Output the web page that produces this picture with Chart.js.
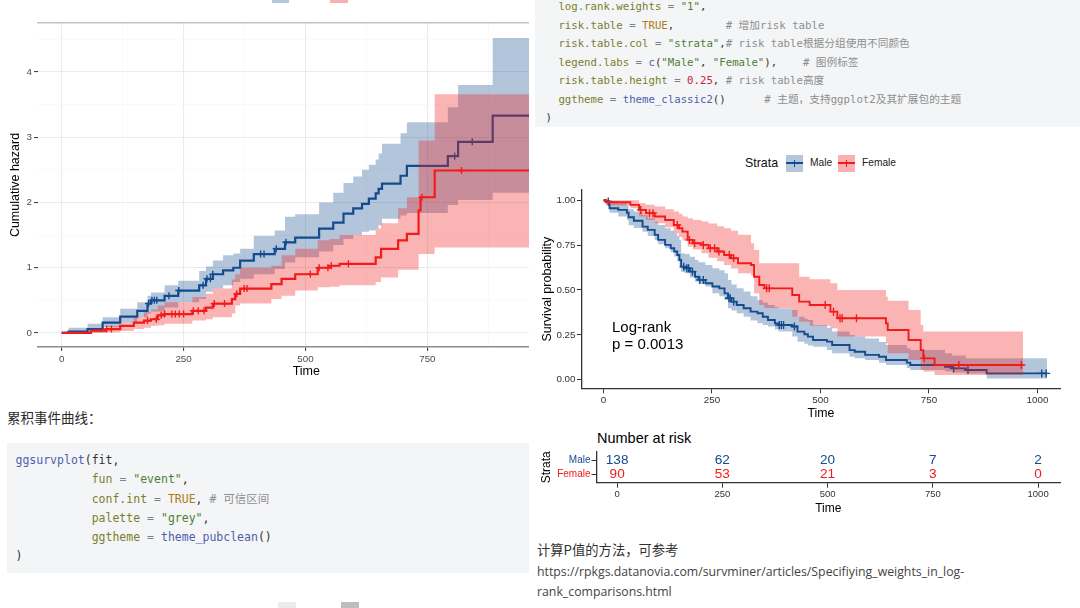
<!DOCTYPE html>
<html><head><meta charset="utf-8">
<script src="https://cdn.jsdelivr.net/npm/chart.js@4.4.1/dist/chart.umd.min.js"></script>
<style>
html,body{margin:0;padding:0;width:1080px;height:608px;overflow:hidden;background:#fff;}
.abs{position:absolute;}
.code{position:absolute;background:#F4F5F6;overflow:hidden;}
.code pre{position:absolute;margin:0;font-family:"DejaVu Sans Mono","Liberation Mono",monospace;white-space:pre;color:#333;}
.code .z{font-family:"Noto Sans CJK SC",sans-serif;}
.n{color:#7B7D2E}.o{color:#808080}.s{color:#4F7D37}.k{color:#B07A12}.c{color:#8E8E8E}.num{color:#C0253C}.f{color:#4E5DB0}
.txt{position:absolute;white-space:nowrap;font-family:"Liberation Sans",Arial,sans-serif;color:#000;}
.cjk{position:absolute;white-space:nowrap;font-family:"Noto Sans CJK SC",sans-serif;color:#2a2a2a;}
.key{position:absolute;width:17px;height:17px;}
.key .h{position:absolute;left:0;top:7.5px;width:17px;height:2px;}
.key .v{position:absolute;left:7.8px;top:5px;width:1.5px;height:7px;}
</style></head>
<body>
<script>
// ---------------- data ----------------
// Cumulative hazard (left chart)
const HAZ_MALE_TIME  = [0,14,53,84,120,155,176,183,211,239,282,296,310,331,352,366,394,437,458,479,528,557,578,598,616,630,644,650,657,695,708,792,813,884,1022];
const HAZ_MALE       = [0,0.02,0.06,0.16,0.25,0.34,0.45,0.50,0.57,0.65,0.73,0.83,0.90,0.96,1.00,1.11,1.21,1.29,1.39,1.46,1.60,1.69,1.83,1.91,1.98,2.06,2.14,2.21,2.29,2.41,2.56,2.71,2.93,3.33,3.33];
const HAZ_MALE_UPPER = [0,0.08,0.14,0.24,0.37,0.47,0.57,0.62,0.73,0.80,0.95,1.02,1.11,1.19,1.22,1.29,1.49,1.57,1.78,1.82,2.00,2.15,2.30,2.40,2.50,2.58,2.66,2.75,2.90,3.06,3.23,3.46,3.80,4.52,4.52];
const HAZ_MALE_LOWER = [0,0.00,0.01,0.09,0.16,0.24,0.30,0.33,0.39,0.47,0.52,0.63,0.68,0.73,0.78,0.83,0.90,0.98,1.08,1.16,1.25,1.35,1.44,1.50,1.55,1.57,1.60,1.65,1.75,1.80,1.84,1.96,2.04,2.15,2.15];
const HAZ_FEMALE_TIME  = [0,60,91,120,148,169,183,197,211,268,296,310,349,356,366,430,451,479,525,549,570,644,655,690,708,732,736,765,967];
const HAZ_FEMALE       = [0,0.036,0.06,0.11,0.16,0.19,0.21,0.27,0.29,0.34,0.39,0.45,0.52,0.60,0.68,0.75,0.83,0.90,1.00,1.03,1.06,1.16,1.29,1.42,1.52,1.88,2.08,2.49,2.49];
const HAZ_FEMALE_UPPER = [0,0.06,0.11,0.16,0.24,0.32,0.36,0.42,0.47,0.55,0.60,0.68,0.82,0.90,1.00,1.03,1.19,1.29,1.42,1.44,1.50,1.60,1.68,1.91,2.08,2.95,2.95,3.66,3.66];
const HAZ_FEMALE_LOWER = [0,0.00,0.01,0.03,0.06,0.08,0.11,0.12,0.14,0.19,0.21,0.24,0.30,0.42,0.45,0.52,0.57,0.65,0.70,0.71,0.73,0.78,0.85,0.97,0.97,1.21,1.21,1.31,1.31];
const HAZ_MALE_CENS_TIME = [178,185,190,195,220,240,290,298,305,310,408,415,440,460,806,842];
const HAZ_MALE_CENS      = [0.45,0.50,0.50,0.50,0.57,0.65,0.73,0.83,0.83,0.90,1.21,1.21,1.29,1.39,2.71,2.93];
const HAZ_FEMALE_CENS_TIME = [92,102,176,194,204,211,226,233,241,250,270,280,292,313,334,359,374,380,510,528,546,553,588,739,820];
const HAZ_FEMALE_CENS      = [0.06,0.06,0.19,0.21,0.27,0.29,0.29,0.29,0.29,0.29,0.34,0.34,0.34,0.45,0.45,0.60,0.68,0.68,0.90,1.00,1.00,1.03,1.06,2.08,2.49];
const HAZ_X_TICKS = [0,125,250,375,500,625,750,875,1000];
const HAZ_Y_TICKS = [0,0.5,1,1.5,2,2.5,3,3.5,4,4.5];

// Survival probability (right chart)
const SURV_MALE_TIME  = [0,6,13,14,34,54,58,70,90,102,118,126,142,155,163,170,175,179,187,199,211,219,235,251,267,279,287,295,307,323,339,355,367,379,395,403,435,447,463,471,483,515,527,567,579,603,635,651,699,707,787,803,835,883,1022];
const SURV_MALE       = [1,0.993,0.974,0.955,0.946,0.93,0.905,0.886,0.853,0.835,0.807,0.779,0.751,0.732,0.714,0.695,0.667,0.63,0.621,0.602,0.574,0.556,0.537,0.519,0.509,0.481,0.454,0.435,0.416,0.398,0.379,0.37,0.351,0.333,0.314,0.305,0.296,0.268,0.253,0.24,0.221,0.212,0.193,0.165,0.156,0.138,0.128,0.11,0.095,0.082,0.072,0.063,0.054,0.035,0.035];
const SURV_MALE_UPPER = [1,1,1,0.995,0.985,0.97,0.95,0.937,0.918,0.90,0.881,0.862,0.844,0.83,0.816,0.80,0.779,0.704,0.70,0.685,0.667,0.655,0.639,0.621,0.61,0.593,0.556,0.53,0.509,0.491,0.465,0.444,0.43,0.416,0.405,0.398,0.388,0.351,0.34,0.333,0.305,0.29,0.268,0.249,0.24,0.23,0.21,0.193,0.175,0.165,0.147,0.135,0.119,0.119,0.119];
const SURV_MALE_LOWER = [1,0.98,0.95,0.93,0.91,0.89,0.86,0.845,0.825,0.80,0.779,0.755,0.732,0.71,0.686,0.66,0.621,0.60,0.593,0.57,0.546,0.535,0.519,0.481,0.465,0.444,0.398,0.385,0.37,0.351,0.33,0.314,0.305,0.296,0.28,0.268,0.24,0.212,0.20,0.19,0.184,0.165,0.147,0.128,0.12,0.11,0.095,0.082,0.065,0.054,0.045,0.04,0.035,0.007,0.007];
const SURV_FEMALE_TIME  = [0,6,62,82,98,118,142,162,174,182,194,206,226,242,262,278,294,310,340,347,359,371,435,451,475,523,539,651,655,703,731,737,763,967];
const SURV_FEMALE       = [1,0.989,0.974,0.946,0.928,0.909,0.89,0.862,0.844,0.825,0.779,0.76,0.751,0.732,0.714,0.695,0.677,0.649,0.639,0.574,0.528,0.509,0.472,0.435,0.416,0.379,0.342,0.314,0.277,0.221,0.165,0.119,0.082,0.082];
const SURV_FEMALE_UPPER = [1,1,1,0.983,0.975,0.965,0.95,0.937,0.925,0.91,0.90,0.89,0.881,0.87,0.855,0.844,0.83,0.807,0.76,0.723,0.649,0.649,0.649,0.574,0.56,0.537,0.50,0.463,0.44,0.388,0.305,0.268,0.268,0.268];
const SURV_FEMALE_LOWER = [1,0.97,0.955,0.909,0.89,0.872,0.85,0.816,0.795,0.775,0.742,0.725,0.704,0.68,0.66,0.639,0.62,0.593,0.58,0.481,0.416,0.40,0.351,0.323,0.30,0.286,0.24,0.203,0.147,0.11,0.054,0.045,0.026,0.026];
const SURV_MALE_CENS_TIME = [11,185,192,196,205,222,230,289,292,300,405,410,415,440,807,840,1010,1020];
const SURV_MALE_CENS      = [0.993,0.63,0.621,0.621,0.602,0.556,0.556,0.454,0.454,0.435,0.305,0.305,0.305,0.296,0.063,0.054,0.035,0.035];
const SURV_FEMALE_CENS_TIME = [86,106,114,170,198,210,230,246,256,266,290,300,376,382,511,530,545,550,583,739,819,963];
const SURV_FEMALE_CENS      = [0.946,0.928,0.928,0.862,0.779,0.76,0.751,0.732,0.732,0.714,0.695,0.677,0.509,0.509,0.416,0.379,0.342,0.342,0.342,0.119,0.082,0.082];
const SURV_X_TICKS = [0,250,500,750,1000];
const SURV_Y_TICKS = [0,0.25,0.5,0.75,1];
const SURV_Y_LABELS = ["0.00","0.25","0.50","0.75","1.00"];

// Number at risk table
const STRATA = ["Male","Female"];
const RISK_TIMES  = [0,250,500,750,1000];
const RISK_MALE   = [138,62,20,7,2];
const RISK_FEMALE = [90,53,21,3,0];
</script>

<!-- left chart (clipped on the right like the reference) -->
<div class="abs" style="left:0;top:0;width:529px;height:390px;overflow:hidden;">
  <canvas id="haz" width="580" height="390" style="width:580px;height:390px;"></canvas>
</div>
<div class="abs" style="left:272px;top:0;width:17px;height:3px;background:#B3C6DC;"></div>
<div class="abs" style="left:330px;top:0;width:18px;height:3px;background:#F8B0B0;"></div>

<div class="cjk" style="left:7px;top:405px;font-size:13.5px;line-height:24px;">累积事件曲线：</div>
<div class="code" style="left:7px;top:443px;width:522px;height:130px;">
<pre style="left:8.5px;top:8px;font-size:11.5px;line-height:19px;"><span class="f">ggsurvplot</span>(fit,
           <span class="n">fun</span> <span class="o">=</span> <span class="s">"event"</span>,
           <span class="n">conf.int</span> <span class="o">=</span> <span class="k">TRUE</span>, <span class="c"># <span class="z">可信区间</span></span>
           <span class="n">palette</span> <span class="o">=</span> <span class="s">"grey"</span>,
           <span class="n">ggtheme</span> <span class="o">=</span> <span class="f">theme_pubclean</span>()
)</pre>
</div>
<div class="abs" style="left:278px;top:602px;width:18px;height:6px;background:#EBEBEB;"></div>
<div class="abs" style="left:341px;top:602px;width:18px;height:6px;background:#BEBEBE;"></div>

<!-- right column -->
<div class="code" style="left:535px;top:0;width:545px;height:127px;">
<pre style="left:10.5px;top:-2px;font-size:10.7px;line-height:17.6px;">  <span class="n">log.rank.weights</span> <span class="o">=</span> <span class="s">"1"</span>,
  <span class="n">risk.table</span> <span class="o">=</span> <span class="k">TRUE</span>,        <span class="c"># <span class="z">增加</span>risk table</span>
  <span class="n">risk.table.col</span> <span class="o">=</span> <span class="s">"strata"</span>,<span class="c"># risk table<span class="z">根据分组使用不同颜色</span></span>
  <span class="n">legend.labs</span> <span class="o">=</span> <span class="f">c</span>(<span class="s">"Male"</span>, <span class="s">"Female"</span>),    <span class="c"># <span class="z">图例标签</span></span>
  <span class="n">risk.table.height</span> <span class="o">=</span> <span class="num">0.25</span>, <span class="c"># risk table<span class="z">高度</span></span>
  <span class="n">ggtheme</span> <span class="o">=</span> <span class="f">theme_classic2</span>()      <span class="c"># <span class="z">主题，支持</span>ggplot2<span class="z">及其扩展包的主题</span></span>
)</pre>
</div>

<!-- survival legend -->
<div class="txt" style="left:745px;top:155px;font-size:12.4px;line-height:16px;color:#111;">Strata</div>
<div class="key" style="left:786px;top:154.5px;background:#B3C6DC;"><div class="h" style="background:#134B8E"></div><div class="v" style="background:#134B8E"></div></div>
<div class="txt" style="left:810px;top:156px;font-size:10.2px;line-height:14px;color:#222;">Male</div>
<div class="key" style="left:838px;top:154.5px;background:#F8B0B0;"><div class="h" style="background:#F21A1A"></div><div class="v" style="background:#F21A1A"></div></div>
<div class="txt" style="left:862px;top:156px;font-size:10.2px;line-height:14px;color:#222;">Female</div>

<div class="abs" style="left:536px;top:130px;width:544px;height:295px;">
  <canvas id="surv" width="544" height="295" style="width:544px;height:295px;"></canvas>
</div>
<div class="txt" style="left:612px;top:318px;font-size:15px;line-height:17.3px;">Log-rank<br>p = 0.0013</div>

<div class="txt" style="left:597px;top:429px;font-size:14.5px;line-height:18px;">Number at risk</div>
<div class="abs" style="left:536px;top:428px;width:544px;height:92px;">
  <canvas id="risk" width="544" height="92" style="width:544px;height:92px;"></canvas>
</div>

<div class="cjk" style="left:537px;top:540px;font-size:13.3px;line-height:20px;color:#333;">计算P值的方法，可参考</div>
<div class="abs" style="left:537px;top:561.5px;font-family:'Open Sans',sans-serif;font-size:12.3px;line-height:20px;color:#444;white-space:nowrap;">https://rpkgs.datanovia.com/survminer/articles/Specifiying_weights_in_log-<br>rank_comparisons.html</div>

<script>
const MALE_COLOR = '#134B8E', FEMALE_COLOR = '#F21A1A';
const MALE_FILL = 'rgba(19,75,142,0.32)', FEMALE_FILL = 'rgba(242,26,26,0.33)';
Chart.defaults.font.family = '"Liberation Sans", Arial, sans-serif';
Chart.defaults.color = '#333';

const pts = (xs, ys) => xs.map((x, i) => ({ x: x, y: ys[i] }));
function bandSets(t, up, lo, fill, order) {
  return [
    { data: pts(t, up), stepped: 'before', borderWidth: 0, borderColor: 'rgba(0,0,0,0)', pointRadius: 0, fill: '+1', backgroundColor: fill, order: order },
    { data: pts(t, lo), stepped: 'before', borderWidth: 0, borderColor: 'rgba(0,0,0,0)', pointRadius: 0, fill: false, order: order }
  ];
}
function lineSet(t, v, color, order, w) {
  return { data: pts(t, v), stepped: 'before', borderColor: color, borderWidth: w, pointRadius: 0, fill: false, order: order };
}
function censSet(t, v, color, order, r) {
  return { data: pts(t, v), showLine: false, pointStyle: 'cross', pointRadius: r, pointBorderColor: color, pointBorderWidth: 1.4, borderColor: color, backgroundColor: color, order: order };
}
const noInteract = { legend: { display: false }, tooltip: { enabled: false }, title: { display: false } };
const plainNum = v => String(v);

// ---------- Cumulative hazard ----------
const isMajorX = v => v % 250 === 0;
const isMajorY = v => Number.isInteger(v);
new Chart(document.getElementById('haz'), {
  type: 'line',
  data: { datasets: [
    ...bandSets(HAZ_MALE_TIME, HAZ_MALE_UPPER, HAZ_MALE_LOWER, MALE_FILL, 6),
    lineSet(HAZ_MALE_TIME, HAZ_MALE, MALE_COLOR, 5, 2.2),
    censSet(HAZ_MALE_CENS_TIME, HAZ_MALE_CENS, MALE_COLOR, 4, 3.5),
    ...bandSets(HAZ_FEMALE_TIME, HAZ_FEMALE_UPPER, HAZ_FEMALE_LOWER, FEMALE_FILL, 3),
    lineSet(HAZ_FEMALE_TIME, HAZ_FEMALE, FEMALE_COLOR, 2, 2.2),
    censSet(HAZ_FEMALE_CENS_TIME, HAZ_FEMALE_CENS, FEMALE_COLOR, 1, 3.5)
  ]},
  options: {
    responsive: false, animation: false, events: [],
    layout: { padding: { top: 23, right: 5, left: 0, bottom: 0 } },
    plugins: noInteract,
    scales: {
      x: {
        type: 'linear', min: -48.6, max: 1052,
        afterBuildTicks: s => { s.ticks = HAZ_X_TICKS.map(v => ({ value: v })); },
        afterFit: s => { s.height = 43; },
        ticks: { callback: v => isMajorX(v) ? String(v) : '', color: '#4D4D4D', font: { size: 9.8 }, padding: 2, maxRotation: 0, autoSkip: false },
        grid: {
          color: c => (c.tick && isMajorX(c.tick.value)) ? '#EBEBEB' : '#F6F6F6',
          lineWidth: c => (c.tick && isMajorX(c.tick.value)) ? 1.1 : 0.6,
          tickLength: 4,
          tickColor: c => (c.tick && isMajorX(c.tick.value)) ? '#444' : 'rgba(0,0,0,0)'
        },
        border: { display: true, color: '#8C8C8C', width: 1.5 },
        title: { display: true, text: 'Time', color: '#000', font: { size: 12.5 }, padding: { top: 0, bottom: 10.5 } }
      },
      x2: {
        type: 'linear', position: 'top', min: -48.6, max: 1052,
        afterFit: s => { s.height = 0; },
        ticks: { display: false }, grid: { display: false, drawTicks: false },
        border: { display: true, color: '#C4C4C4', width: 1.5 }
      },
      y: {
        type: 'linear', min: -0.215, max: 4.751,
        afterBuildTicks: s => { s.ticks = HAZ_Y_TICKS.map(v => ({ value: v })); },
        afterFit: s => { s.width = 38; },
        ticks: { callback: v => isMajorY(v) ? String(v) : '', color: '#4D4D4D', font: { size: 9.8 }, padding: 2, autoSkip: false },
        grid: {
          color: c => (c.tick && isMajorY(c.tick.value)) ? '#EBEBEB' : '#F6F6F6',
          lineWidth: c => (c.tick && isMajorY(c.tick.value)) ? 1.1 : 0.6,
          tickLength: 4,
          tickColor: c => (c.tick && isMajorY(c.tick.value)) ? '#444' : 'rgba(0,0,0,0)'
        },
        border: { display: false },
        title: { display: true, text: 'Cumulative hazard', color: '#000', font: { size: 12.5 }, padding: { top: 8, bottom: 0 } }
      }
    }
  }
});

// ---------- Survival probability ----------
new Chart(document.getElementById('surv'), {
  type: 'line',
  data: { datasets: [
    ...bandSets(SURV_MALE_TIME, SURV_MALE_UPPER, SURV_MALE_LOWER, MALE_FILL, 6),
    lineSet(SURV_MALE_TIME, SURV_MALE, MALE_COLOR, 5, 1.9),
    censSet(SURV_MALE_CENS_TIME, SURV_MALE_CENS, MALE_COLOR, 4, 4),
    ...bandSets(SURV_FEMALE_TIME, SURV_FEMALE_UPPER, SURV_FEMALE_LOWER, FEMALE_FILL, 3),
    lineSet(SURV_FEMALE_TIME, SURV_FEMALE, FEMALE_COLOR, 2, 1.9),
    censSet(SURV_FEMALE_CENS_TIME, SURV_FEMALE_CENS, FEMALE_COLOR, 1, 4)
  ]},
  options: {
    responsive: false, animation: false, events: [],
    layout: { padding: { top: 60, right: 20, left: 0, bottom: 0 } },
    plugins: noInteract,
    scales: {
      x: {
        type: 'linear', min: -49.5, max: 1052,
        afterBuildTicks: s => { s.ticks = SURV_X_TICKS.map(v => ({ value: v })); },
        afterFit: s => { s.height = 36.7; },
        ticks: { callback: plainNum, color: '#333', font: { size: 9.8 }, padding: 1, maxRotation: 0, autoSkip: false },
        grid: { display: true, drawOnChartArea: false, tickLength: 5, tickColor: '#333', lineWidth: 1 },
        border: { display: true, color: '#333', width: 1.3 },
        title: { display: true, text: 'Time', color: '#000', font: { size: 12.3 }, padding: { top: 0, bottom: 4.2 } }
      },
      y: {
        type: 'linear', min: -0.048, max: 1.057,
        afterBuildTicks: s => { s.ticks = SURV_Y_TICKS.map(v => ({ value: v })); },
        afterFit: s => { s.width = 46; },
        ticks: { callback: v => SURV_Y_LABELS[SURV_Y_TICKS.indexOf(v)], color: '#333', font: { size: 9.8 }, padding: 1.5, autoSkip: false },
        grid: { display: true, drawOnChartArea: false, tickLength: 5, tickColor: '#333', lineWidth: 1 },
        border: { display: true, color: '#333', width: 1.3 },
        title: { display: true, text: 'Survival probability', color: '#000', font: { size: 12.5 }, padding: { top: 4, bottom: 0 } }
      }
    }
  }
});

// ---------- Number at risk ----------
const riskLabels = {
  id: 'riskLabels',
  afterDatasetsDraw(chart) {
    const ctx = chart.ctx;
    chart.data.datasets.forEach((ds, di) => {
      const meta = chart.getDatasetMeta(di);
      meta.data.forEach((el, i) => {
        ctx.save();
        ctx.fillStyle = ds.textColor;
        ctx.font = '13.6px "Liberation Sans", Arial, sans-serif';
        ctx.textAlign = 'center';
        ctx.textBaseline = 'middle';
        ctx.fillText(String(ds.counts[i]), el.x, el.y);
        ctx.restore();
      });
    });
  }
};
const strataY = name => STRATA.length - STRATA.indexOf(name);
new Chart(document.getElementById('risk'), {
  type: 'scatter',
  data: { datasets: [
    { data: RISK_TIMES.map(t => ({ x: t, y: strataY('Male') })), counts: RISK_MALE, textColor: MALE_COLOR, pointRadius: 0 },
    { data: RISK_TIMES.map(t => ({ x: t, y: strataY('Female') })), counts: RISK_FEMALE, textColor: FEMALE_COLOR, pointRadius: 0 }
  ]},
  plugins: [riskLabels],
  options: {
    responsive: false, animation: false, events: [],
    layout: { padding: { top: 24, right: 20, left: 0, bottom: 0 } },
    plugins: noInteract,
    scales: {
      x: {
        type: 'linear', min: -49, max: 1052,
        afterBuildTicks: s => { s.ticks = RISK_TIMES.map(v => ({ value: v })); },
        afterFit: s => { s.height = 37.3; },
        ticks: { callback: plainNum, color: '#333', font: { size: 9.5 }, padding: 1, maxRotation: 0, autoSkip: false },
        grid: { display: true, drawOnChartArea: false, tickLength: 5, tickColor: '#333', lineWidth: 1 },
        border: { display: true, color: '#333', width: 1.3 },
        title: { display: true, text: 'Time', color: '#000', font: { size: 12 }, padding: { top: 0, bottom: 4.2 } }
      },
      y: {
        type: 'linear', min: 0.4, max: 2.6,
        afterBuildTicks: s => { s.ticks = STRATA.map(n => ({ value: strataY(n) })); },
        afterFit: s => { s.width = 60.5; },
        ticks: {
          callback: v => STRATA[STRATA.length - v],
          color: c => (c.tick && c.tick.value === strataY('Male')) ? MALE_COLOR : FEMALE_COLOR,
          font: { size: 10 }, padding: 1, autoSkip: false
        },
        grid: { display: true, drawOnChartArea: false, tickLength: 5, tickColor: '#333', lineWidth: 1 },
        border: { display: true, color: '#333', width: 1.3 },
        title: { display: true, text: 'Strata', color: '#000', font: { size: 12 }, padding: { top: 3, bottom: 0 } }
      }
    }
  }
});
</script>
</body></html>
